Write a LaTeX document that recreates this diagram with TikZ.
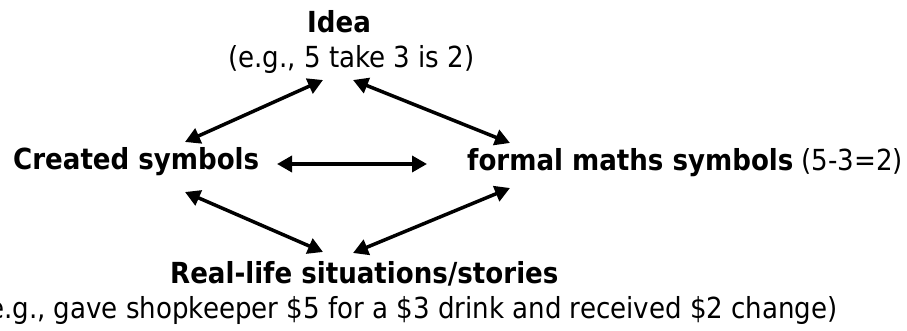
\documentclass[tikz,border=0pt]{standalone}
\usepackage{fontspec}
\setmainfont{DejaVu Sans Condensed}
\usetikzlibrary{arrows.meta}
\begin{document}
\begin{tikzpicture}[x=1pt,y=-1pt,
  lbl/.style={inner sep=0pt,anchor=base west,font=\fontsize{29}{34}\selectfont},
  arr/.style={{Triangle[length=15pt,width=16pt]}-{Triangle[length=15pt,width=16pt]},line width=3.5pt}]
\useasboundingbox (0,0) rectangle (907,331);
% texts
\node[lbl] (idea) at (307,33) {\bfseries Idea};
\node[lbl] (ideaeg) at (228,68) {(e.g., 5 take 3 is 2)};
\node[lbl] (created) at (13,170) {\bfseries Created symbols};
\node[lbl] (formal) at (467,171) {{\bfseries formal maths symbols} (5-3=2)};
\node[lbl] (real) at (170,283) {\bfseries Real-life situations/stories};
\node[lbl,anchor=base east] (realeg) at (838,318) {(e.g., gave shopkeeper \$5 for a \$3 drink and received \$2 change)};
% arrow ends
\coordinate (idea-l) at (323,80);
\coordinate (idea-r) at (353,80);
\coordinate (created-t) at (185,142);
\coordinate (created-b) at (185,192);
\coordinate (created-r) at (277,164);
\coordinate (formal-l) at (427,164);
\coordinate (formal-t) at (510,143);
\coordinate (formal-b) at (510,188);
\coordinate (real-l) at (323,252);
\coordinate (real-r) at (353,253);
% arrows
\draw[arr] (created-t) -- (idea-l);
\draw[arr] (idea-r) -- (formal-t);
\draw[arr] (created-r) -- (formal-l);
\draw[arr] (created-b) -- (real-l);
\draw[arr] (real-r) -- (formal-b);
\end{tikzpicture}
\end{document}
